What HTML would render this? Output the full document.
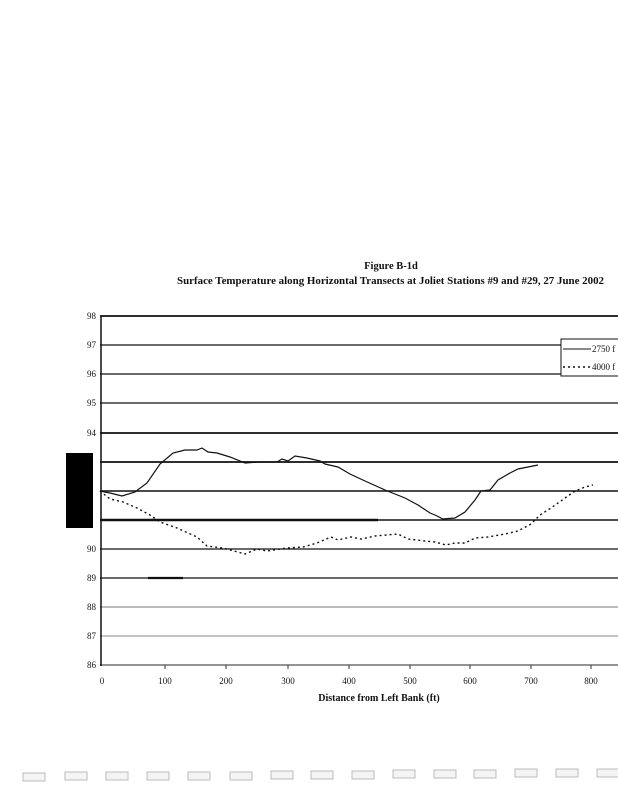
<!DOCTYPE html>
<html><head><meta charset="utf-8"><style>
html,body{margin:0;padding:0;background:#fff;}
svg{display:block;}
text{font-family:"Liberation Serif",serif;fill:#111;}
</style></head><body>
<svg width="618" height="800" viewBox="0 0 618 800" xmlns="http://www.w3.org/2000/svg">
<rect width="618" height="800" fill="#fff"/>
<text x="391" y="269" font-size="10.5" font-weight="bold" text-anchor="middle">Figure B-1d</text>
<text x="177" y="284" font-size="10.5" font-weight="bold" textLength="427" lengthAdjust="spacingAndGlyphs">Surface Temperature along Horizontal Transects at Joliet Stations #9 and #29, 27 June 2002</text>
<g stroke="#111" stroke-width="1.3">
<line x1="100" y1="316" x2="618" y2="316" stroke-width="1.8"/>
<line x1="100" y1="345" x2="618" y2="345"/>
<line x1="100" y1="374" x2="618" y2="374"/>
<line x1="100" y1="403" x2="618" y2="403"/>
<line x1="100" y1="433" x2="618" y2="433" stroke-width="1.8"/>
<line x1="100" y1="462" x2="618" y2="462" stroke-width="1.8"/>
<line x1="100" y1="491" x2="618" y2="491" stroke-width="1.6"/>
<line x1="100" y1="520" x2="618" y2="520" stroke-width="1.5"/>
<line x1="100" y1="520" x2="378" y2="520" stroke-width="2.4"/>
<line x1="100" y1="549" x2="618" y2="549"/>
<line x1="100" y1="578" x2="618" y2="578"/>
<line x1="148" y1="578" x2="183" y2="578" stroke-width="2.2"/>
<line x1="100" y1="607" x2="618" y2="607" stroke="#777" stroke-width="1"/>
<line x1="100" y1="636" x2="618" y2="636" stroke="#888" stroke-width="1"/>
<line x1="100" y1="665" x2="618" y2="665" stroke="#555" stroke-width="1.2"/>
<line x1="101" y1="316" x2="101" y2="666" stroke-width="1.5"/>
</g>
<g stroke="#333" stroke-width="1">
<line x1="165" y1="665" x2="165" y2="669"/><line x1="226" y1="665" x2="226" y2="669"/><line x1="288" y1="665" x2="288" y2="669"/><line x1="349" y1="665" x2="349" y2="669"/><line x1="410" y1="665" x2="410" y2="669"/><line x1="470" y1="665" x2="470" y2="669"/><line x1="531" y1="665" x2="531" y2="669"/><line x1="591" y1="665" x2="591" y2="669"/>
</g>
<g font-size="9" text-anchor="end">
<text x="96" y="319">98</text><text x="96" y="348">97</text><text x="96" y="377">96</text><text x="96" y="406">95</text><text x="96" y="436">94</text><text x="96" y="552">90</text><text x="96" y="581">89</text><text x="96" y="610">88</text><text x="96" y="639">87</text><text x="96" y="668">86</text>
</g>
<rect x="66" y="453" width="27" height="75" fill="#000"/>
<g font-size="9" text-anchor="middle">
<text x="102" y="684">0</text><text x="165" y="684">100</text><text x="226" y="684">200</text><text x="288" y="684">300</text><text x="349" y="684">400</text><text x="410" y="684">500</text><text x="470" y="684">600</text><text x="531" y="684">700</text><text x="591" y="684">800</text>
</g>
<text x="379" y="701" font-size="10" font-weight="bold" text-anchor="middle">Distance from Left Bank (ft)</text>
<polyline fill="none" stroke="#111" stroke-width="1.2" points="100,491 110,493 122,496 135,492 147,483 160,464 173,453 185,450 197,450 202,448 208,452 217,453 230,457 245,463 260,462 277,462 282,459 288,461 295,456 307,458 320,461 325,464 338,467 350,474 365,481 385,490 405,498 418,505 430,513 435,515 443,519 455,518 465,512 475,500 481,491 490,490 498,480 510,473 518,469 528,467 538,465"/>
<polyline fill="none" stroke="#111" stroke-width="1.4" stroke-dasharray="2,3" points="100,491 110,499 123,502 137,508 150,515 160,522 177,528 197,537 207,546 223,548 245,554 257,549 267,551 287,548 303,547 317,543 331,537 338,540 351,537 361,539 375,536 398,534 408,539 425,541 435,542 446,545 455,543 465,543 475,538 488,537 505,534 518,531 531,524 540,515 551,508 565,498 575,491 585,487 593,485"/>
<rect x="561" y="339" width="60" height="37" fill="#fff" stroke="#111" stroke-width="1"/>
<line x1="563" y1="349" x2="591" y2="349" stroke="#111" stroke-width="1"/>
<line x1="563" y1="367" x2="591" y2="367" stroke="#111" stroke-width="1.4" stroke-dasharray="2,3"/>
<text x="592" y="352" font-size="9">2750 f</text>
<text x="592" y="370" font-size="9">4000 f</text>
<g fill="#f4f4f4" stroke="#bbb" stroke-width="1">
<rect x="23" y="773" width="22" height="8"/><rect x="65" y="772" width="22" height="8"/><rect x="106" y="772" width="22" height="8"/><rect x="147" y="772" width="22" height="8"/><rect x="188" y="772" width="22" height="8"/><rect x="230" y="772" width="22" height="8"/><rect x="271" y="771" width="22" height="8"/><rect x="311" y="771" width="22" height="8"/><rect x="352" y="771" width="22" height="8"/><rect x="393" y="770" width="22" height="8"/><rect x="434" y="770" width="22" height="8"/><rect x="474" y="770" width="22" height="8"/><rect x="515" y="769" width="22" height="8"/><rect x="556" y="769" width="22" height="8"/><rect x="597" y="769" width="22" height="8"/>
</g>
</svg>
</body></html>
